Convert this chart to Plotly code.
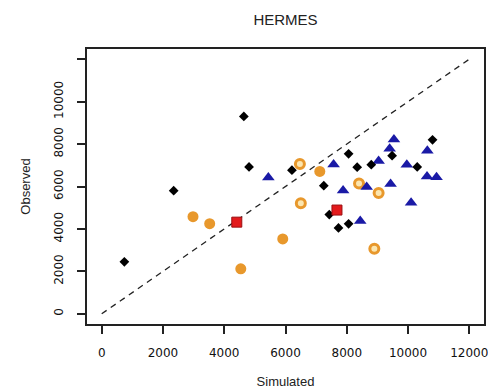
import plotly.graph_objects as go

# Simulated vs observed values, grouped by marker style
diamond_sim = [740, 2350, 4640, 4810, 6210, 8060, 8340, 8800, 9480, 10300, 10800, 7250, 7430, 7730, 8060]
diamond_obs = [2450, 5800, 9300, 6920, 6770, 7540, 6910, 7030, 7450, 6920, 8200, 6040, 4680, 4050, 4240]

triangle_sim = [5440, 7570, 7880, 8650, 9040, 9400, 9540, 9430, 9960, 10630, 10620, 10930, 10100, 8440]
triangle_obs = [6430, 7040, 5810, 5980, 7200, 7780, 8220, 6120, 7030, 7690, 6470, 6440, 5240, 4380]

dot_sim = [2980, 3525, 4540, 5910, 7120]
dot_obs = [4580, 4250, 2120, 3530, 6710]

ring_sim = [6470, 6500, 8400, 9040, 8900]
ring_obs = [7060, 5210, 6140, 5690, 3070]

square_sim = [4410, 7680]
square_obs = [4320, 4890]

# 1:1 reference line limits
one_to_one = [0, 12000]

tick_vals = [0, 2000, 4000, 6000, 8000, 10000, 12000]
x_tick_text = ["0", "2000", "4000", "6000", "8000", "10000", "12000"]
y_tick_text = ["0", "2000", "4000", "6000", "8000", "10000", ""]

ORANGE = "#E8982C"

fig = go.Figure()

fig.add_trace(go.Scatter(
    x=one_to_one, y=one_to_one, mode="lines",
    line=dict(color="#222222", width=1.3, dash="6px,5px"),
    hoverinfo="skip"))

fig.add_trace(go.Scatter(
    x=dot_sim, y=dot_obs, mode="markers",
    marker=dict(symbol="circle", size=11, color=ORANGE, line=dict(width=0))))

fig.add_trace(go.Scatter(
    x=ring_sim, y=ring_obs, mode="markers",
    marker=dict(symbol="circle", size=9, color="#FBE6B0",
                line=dict(color=ORANGE, width=3))))

fig.add_trace(go.Scatter(
    x=triangle_sim, y=triangle_obs, mode="markers",
    marker=dict(symbol="triangle-up", size=11, color="#1A1AA6", line=dict(width=0))))

fig.add_trace(go.Scatter(
    x=diamond_sim, y=diamond_obs, mode="markers",
    marker=dict(symbol="diamond", size=7.5, color="#000000", line=dict(width=0))))

fig.add_trace(go.Scatter(
    x=square_sim, y=square_obs, mode="markers",
    marker=dict(symbol="square", size=10, color="#E31A1C",
                line=dict(color="#9B0E10", width=1))))

axis_common = dict(
    range=[-480, 12480], tickvals=tick_vals,
    showgrid=False, zeroline=False,
    showline=True, mirror=True, linecolor="#222222", linewidth=1.5,
    ticks="outside", ticklen=8, tickwidth=1.5, tickcolor="#222222",
    tickfont=dict(family="DejaVu Sans", size=12, color="#111111"),
    ticklabeloverflow="allow",
    automargin=False,
)

fig.update_layout(
    width=488, height=389,
    margin=dict(l=87, r=4, t=49, b=65),
    paper_bgcolor="white", plot_bgcolor="white",
    showlegend=False,
    title=dict(text="HERMES", x=0.585, xanchor="center",
               y=0.948, yanchor="middle",
               font=dict(family="Liberation Sans", size=15, color="#222222")),
    xaxis=dict(**axis_common, ticktext=x_tick_text, ticklabelstandoff=9,
               title=dict(text="Simulated", standoff=23,
                          font=dict(family="Liberation Sans", size=13, color="#222222"))),
    yaxis=dict(**axis_common, ticktext=y_tick_text, tickangle=-90, ticklabelstandoff=9,
               title=dict(text="Observed", standoff=19,
                          font=dict(family="Liberation Sans", size=13, color="#222222"))),
)

fig.write_html("out.html")
